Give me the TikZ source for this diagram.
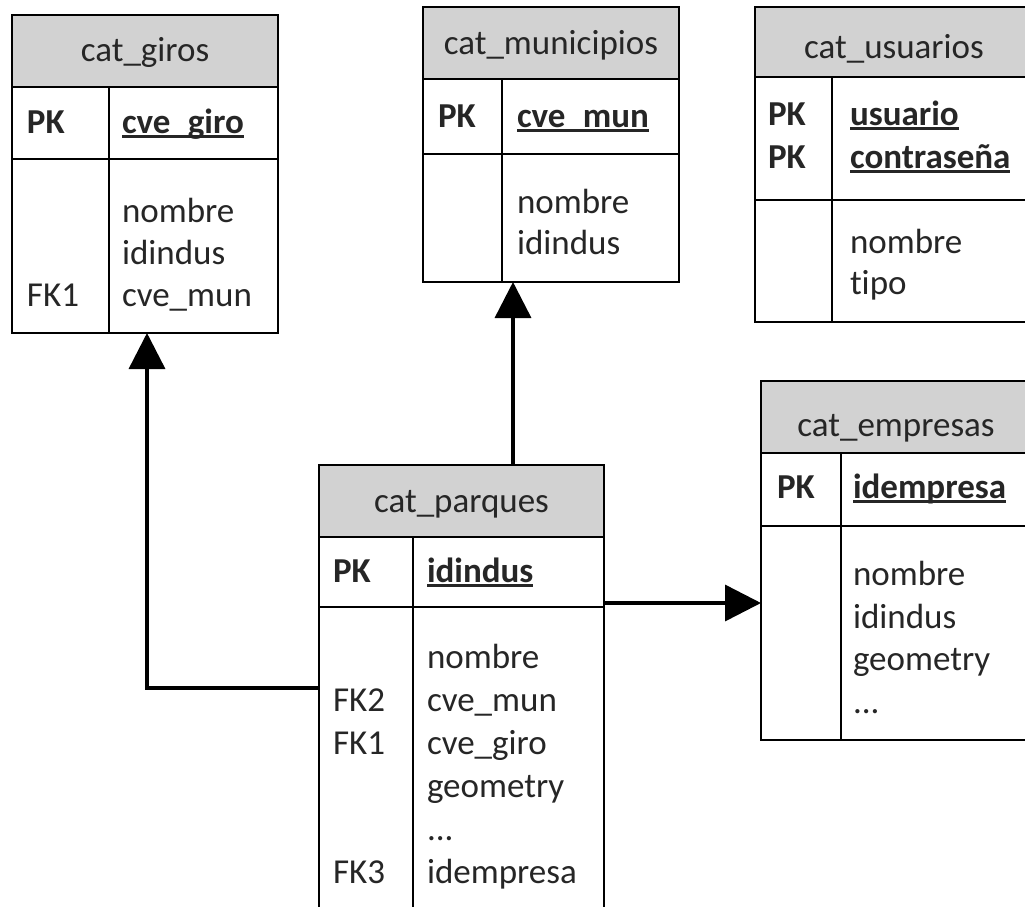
\documentclass[tikz,border=0pt]{standalone}
\usepackage{fontspec}
\setmainfont{Carlito}[Ligatures=NoCommon]
\usetikzlibrary{arrows.meta}
\definecolor{hdrgray}{RGB}{210,210,210}
\definecolor{ink}{RGB}{38,38,38}
\newlength\keyw
% primary-key field: bold and underlined just below the baseline
\newcommand\keyfield[1]{\settowidth\keyw{\bfseries #1}\rlap{\rule[-4.5pt]{\keyw}{2.2pt}}\textbf{#1}}

\begin{document}
\begin{tikzpicture}[x=1pt,y=-1pt,
  every node/.style={inner sep=0pt, outer sep=0pt},
  box/.style={draw=black, line width=2pt, rectangle, anchor=north west},
  hdr/.style={box, fill=hdrgray},
  rule/.style={draw=black, line width=2pt},
  txt/.style={anchor=base west, text=ink, font=\fontsize{35}{42}\selectfont},
  ttl/.style={anchor=base, text=ink, font=\fontsize{35}{42}\selectfont},
  link/.style={draw=black, line width=3.5pt, -{Triangle[length=36pt,width=36pt]}},
]
\clip (0,0) rectangle (1025,907);
\fill[white] (0,0) rectangle (1025,907);

% ---------- cat_giros ----------
\node[hdr, minimum width=266pt, minimum height=72pt] (giros) at (12,15) {};
\node[box, minimum width=266pt, minimum height=72pt] (giros-pk) at (giros.south west) {};
\node[box, minimum width=266pt, minimum height=174pt] (giros-body) at (giros-pk.south west) {};
\draw[rule] ([xshift=97pt]giros-pk.north west) -- ([xshift=97pt]giros-body.south west);
\node[ttl] (giros-t) at (145,62) {cat\_giros};
\node[txt] (giros-k1) at (27,133) {\textbf{PK}};
\node[txt] (giros-f1) at (122,133) {\keyfield{cve\_giro}};
\node[txt] (giros-f2) at (122,222) {nombre};
\node[txt] (giros-f3) at (122,264) {idindus};
\node[txt] (giros-f4) at (122,306) {cve\_mun};
\node[txt] (giros-k2) at (27,306) {FK1};

% ---------- cat_municipios ----------
\node[hdr, minimum width=256pt, minimum height=72pt] (muni) at (423,7) {};
\node[box, minimum width=256pt, minimum height=75pt] (muni-pk) at (muni.south west) {};
\node[box, minimum width=256pt, minimum height=128pt] (muni-body) at (muni-pk.south west) {};
\draw[rule] ([xshift=79pt]muni-pk.north west) -- ([xshift=79pt]muni-body.south west);
\node[ttl] (muni-t) at (551,55) {cat\_municipios};
\node[txt] (muni-k1) at (438,127) {\textbf{PK}};
\node[txt] (muni-f1) at (517,127) {\keyfield{cve\_mun}};
\node[txt] (muni-f2) at (517,213) {nombre};
\node[txt] (muni-f3) at (517,254) {idindus};

% ---------- cat_usuarios ----------
\node[hdr, minimum width=278pt, minimum height=70pt] (usu) at (755,7) {};
\node[box, minimum width=278pt, minimum height=123pt] (usu-pk) at (usu.south west) {};
\node[box, minimum width=278pt, minimum height=122pt] (usu-body) at (usu-pk.south west) {};
\draw[rule] ([xshift=77pt]usu-pk.north west) -- ([xshift=77pt]usu-body.south west);
\node[ttl] (usu-t) at (894,59) {cat\_usuarios};
\node[txt] (usu-k1) at (768,125) {\textbf{PK}};
\node[txt] (usu-k2) at (768,168) {\textbf{PK}};
\node[txt] (usu-f1) at (850,125) {\keyfield{usuario}};
\node[txt] (usu-f2) at (850,168) {\keyfield{contraseña}};
\node[txt] (usu-f3) at (850,253) {nombre};
\node[txt] (usu-f4) at (850,294) {tipo};

% ---------- cat_parques ----------
\node[hdr, minimum width=285pt, minimum height=72pt] (parques) at (319,465) {};
\node[box, minimum width=285pt, minimum height=70pt] (parques-pk) at (parques.south west) {};
\node[box, minimum width=285pt, minimum height=333pt] (parques-body) at (parques-pk.south west) {};
\draw[rule] ([xshift=94pt]parques-pk.north west) -- ([xshift=94pt]parques-body.south west);
\node[ttl] (parques-t) at (461.5,512) {cat\_parques};
\node[txt] (parques-k1) at (333,582) {\textbf{PK}};
\node[txt] (parques-f1) at (427,582) {\keyfield{idindus}};
\node[txt] (parques-f2) at (427,668) {nombre};
\node[txt] (parques-f3) at (427,711) {cve\_mun};
\node[txt] (parques-f4) at (427,754) {cve\_giro};
\node[txt] (parques-f5) at (427,797) {geometry};
\node[txt] (parques-f6) at (427,840) {...};
\node[txt] (parques-f7) at (427,883) {idempresa};
\node[txt] (parques-k2) at (333,711) {FK2};
\node[txt] (parques-k3) at (333,754) {FK1};
\node[txt] (parques-k4) at (333,883) {FK3};

% ---------- cat_empresas ----------
\node[hdr, minimum width=270pt, minimum height=72pt] (emp) at (761,381) {};
\node[box, minimum width=270pt, minimum height=73pt] (emp-pk) at (emp.south west) {};
\node[box, minimum width=270pt, minimum height=214pt] (emp-body) at (emp-pk.south west) {};
\draw[rule] ([xshift=80pt]emp-pk.north west) -- ([xshift=80pt]emp-body.south west);
\node[ttl] (emp-t) at (896,436) {cat\_empresas};
\node[txt] (emp-k1) at (777,498) {\textbf{PK}};
\node[txt] (emp-f1) at (853,498) {\keyfield{idempresa}};
\node[txt] (emp-f2) at (853,585) {nombre};
\node[txt] (emp-f3) at (853,628) {idindus};
\node[txt] (emp-f4) at (853,670) {geometry};
\node[txt] (emp-f5) at (853,713) {...};

% ---------- relationships ----------
\coordinate (giros-in) at ([xshift=135pt]giros-body.south west);
\coordinate (parques-out) at ([yshift=-81pt]parques-body.north west);
\draw[link] (parques-out) -| (giros-in);

\coordinate (muni-in) at ([xshift=90pt]muni-body.south west);
\draw[link] (parques.north -| muni-in) -- (muni-in);

\coordinate (parques-emp) at ([yshift=4pt]parques-body.north east);
\draw[link] (parques-emp) -- (parques-emp -| emp-body.west);
\end{tikzpicture}
\end{document}
